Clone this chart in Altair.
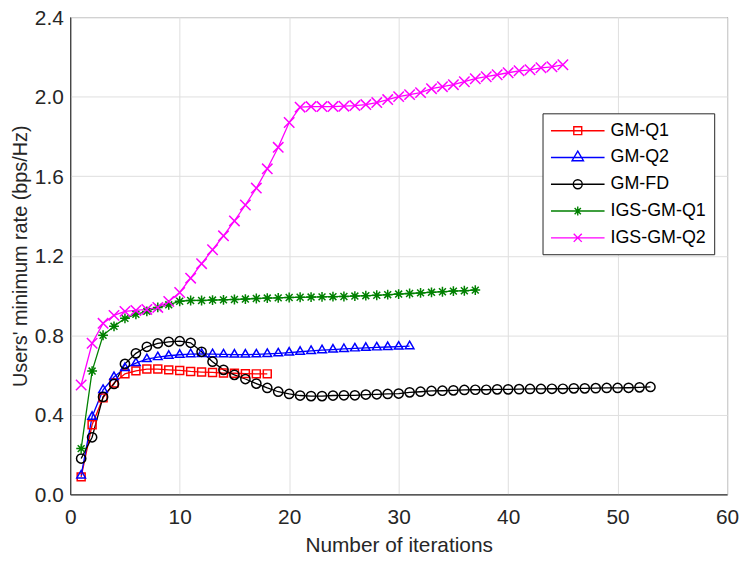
import altair as alt
import pandas as pd

series_names = ["GM-Q1", "GM-Q2", "GM-FD", "IGS-GM-Q1", "IGS-GM-Q2"]

gm_q1 = [0.088, 0.35, 0.485, 0.56, 0.606, 0.621, 0.63, 0.63, 0.626, 0.623,
         0.618, 0.615, 0.613, 0.61, 0.609, 0.607, 0.606, 0.606]

gm_q2 = [0.095, 0.39, 0.525, 0.59, 0.635, 0.66, 0.68, 0.69, 0.697, 0.702,
         0.705, 0.706, 0.705, 0.704, 0.703, 0.703, 0.704, 0.706, 0.709, 0.713,
         0.717, 0.721, 0.725, 0.728, 0.731, 0.734, 0.737, 0.739, 0.741, 0.743,
         0.745]

gm_fd = [0.18, 0.287, 0.49, 0.555, 0.656, 0.709, 0.742, 0.759, 0.767, 0.77,
         0.762, 0.717, 0.667, 0.626, 0.601, 0.58, 0.557, 0.535, 0.516, 0.505,
         0.497, 0.494, 0.494, 0.497, 0.498, 0.498, 0.502, 0.503, 0.505, 0.507,
         0.513, 0.516, 0.52, 0.521, 0.523, 0.525, 0.526, 0.526, 0.528, 0.528,
         0.529, 0.53, 0.53, 0.531, 0.531, 0.533, 0.533, 0.534, 0.535, 0.535,
         0.536, 0.538, 0.54]

igs_gm_q1 = [0.23, 0.62, 0.80, 0.845, 0.885, 0.905, 0.92, 0.94, 0.953, 0.971,
             0.975, 0.975, 0.977, 0.978, 0.98, 0.982, 0.985, 0.987, 0.988, 0.99,
             0.991, 0.992, 0.993, 0.994, 0.995, 0.997, 0.999, 1.001, 1.004, 1.007,
             1.01, 1.013, 1.016, 1.019, 1.022, 1.024, 1.027]

igs_gm_q2 = [0.55, 0.76, 0.86, 0.90, 0.92, 0.925, 0.93, 0.94, 0.97, 1.015,
             1.087, 1.16, 1.23, 1.30, 1.375, 1.455, 1.54, 1.637, 1.745, 1.87,
             1.947, 1.95, 1.95, 1.95, 1.952, 1.955, 1.96, 1.97, 1.985, 2.0,
             2.01, 2.02, 2.04, 2.05, 2.06, 2.075, 2.09, 2.10, 2.11, 2.12,
             2.13, 2.135, 2.145, 2.15, 2.16]

x_ticks = [0, 10, 20, 30, 40, 50, 60]
y_ticks = [0.0, 0.4, 0.8, 1.2, 1.6, 2.0, 2.4]

all_series = [gm_q1, gm_q2, gm_fd, igs_gm_q1, igs_gm_q2]
rows = []
for name, vals in zip(series_names, all_series):
    for i, v in enumerate(vals, start=1):
        rows.append({"iter": i, "rate": v, "series": name})
df = pd.DataFrame(rows)

# ---- styles ----
colors = ["#ff0000", "#0000ff", "#000000", "#008000", "#ff00ff"]
TRI = "M0,-1.155L1,0.577L-1,0.577Z"
AST = "M-1,0L1,0M0,-1L0,1M-0.7,-0.7L0.7,0.7M-0.7,0.7L0.7,-0.7"
XSH = "M-1,-1L1,1M-1,1L1,-1"
shapes = ["square", TRI, "circle", AST, XSH]
sizes = [64, 110, 121, 130, 81]

# legend glyphs: a line segment with the marker in its middle (1 unit = 9 px)
SEG = "M-1,0L5,0"
legend_glyphs = [
    SEG + "M1.556,-0.444H2.444V0.444H1.556Z",
    SEG + "M2,-0.72L2.64,0.36L1.36,0.36Z",
    SEG + "M2.5,0A0.5,0.5,0,1,1,1.5,0A0.5,0.5,0,1,1,2.5,0",
    SEG + "M1.5,0H2.5M2,-0.5V0.5M1.65,-0.35L2.35,0.35M1.65,0.35L2.35,-0.35",
    SEG + "M1.55,-0.45L2.45,0.45M1.55,0.45L2.45,-0.45",
]

FONT = "Liberation Sans"

x_enc = alt.X(
    "iter:Q",
    scale=alt.Scale(domain=[0, 60], nice=False),
    axis=alt.Axis(values=x_ticks, title="Number of iterations", labelPadding=12,
                  titleY=58, titleBaseline="alphabetic", titleFontSize=21,
                  labelFlush=False),
)
y_enc = alt.Y(
    "rate:Q",
    scale=alt.Scale(domain=[0, 2.4], nice=False),
    axis=alt.Axis(values=y_ticks, format=".1f", title="Users' minimum rate (bps/Hz)",
                  labelPadding=7, labelOffset=1, titleX=-44, titleY=240.5,
                  titleAngle=270, titleBaseline="alphabetic", titleFontSize=20,
                  labelFlush=False),
)

legend_cfg = alt.Legend(
    title=None, orient="none", legendX=476, legendY=97,
    symbolSize=324, symbolStrokeWidth=1.4,
    labelFont=FONT, labelFontSize=18, labelColor="#000000", labelOffset=41,
    labelLimit=300, padding=7.5, rowPadding=8,
    strokeColor="#262626", fillColor="#ffffff",
)

lines = alt.Chart(df).mark_line(strokeWidth=1.3).encode(
    x=x_enc, y=y_enc,
    color=alt.Color("series:N", sort=series_names,
                    scale=alt.Scale(domain=series_names, range=colors),
                    legend=None),
)

points = alt.Chart(df).mark_point(filled=False, strokeWidth=1.5, opacity=1).encode(
    x=x_enc, y=y_enc,
    color=alt.Color("series:N", sort=series_names,
                    scale=alt.Scale(domain=series_names, range=colors),
                    legend=None),
    shape=alt.Shape("series:N", sort=series_names,
                    scale=alt.Scale(domain=series_names, range=shapes),
                    legend=None),
    size=alt.Size("series:O", sort=series_names,
                  scale=alt.Scale(domain=series_names, range=sizes),
                  legend=None),
)

# legend-only layer (draws no marks; its scales carry the legend glyphs)
legend_layer = alt.Chart(df).transform_filter("false").mark_point(
    filled=False, strokeWidth=1.4, opacity=1
).encode(
    x=x_enc, y=y_enc,
    color=alt.Color("series:N", sort=series_names,
                    scale=alt.Scale(domain=series_names, range=colors),
                    legend=legend_cfg),
    shape=alt.Shape("series:N", sort=series_names,
                    scale=alt.Scale(domain=series_names, range=legend_glyphs),
                    legend=legend_cfg),
)

chart = (
    alt.layer(lines, points, legend_layer)
    .resolve_scale(color="independent", shape="independent", size="independent")
    .resolve_legend(color="independent", shape="independent")
    .properties(width=662, height=481, autosize=alt.AutoSizeParams(type="none"),
                padding={"left": 62.7, "top": 7, "right": 12, "bottom": 62},
                background="#ffffff")
    .configure_view(stroke="#262626", strokeWidth=1)
    .configure_axis(
        grid=True, gridColor="#dfdfdf", gridWidth=1,
        domainColor="#262626", domainWidth=1, tickSize=0,
        labelFont=FONT, labelFontSize=21, labelColor="#262626",
        titleFont=FONT, titleFontWeight="normal", titleColor="#262626",
    )
)

chart.save("out.html", embed_options={"renderer": "svg", "actions": False})
